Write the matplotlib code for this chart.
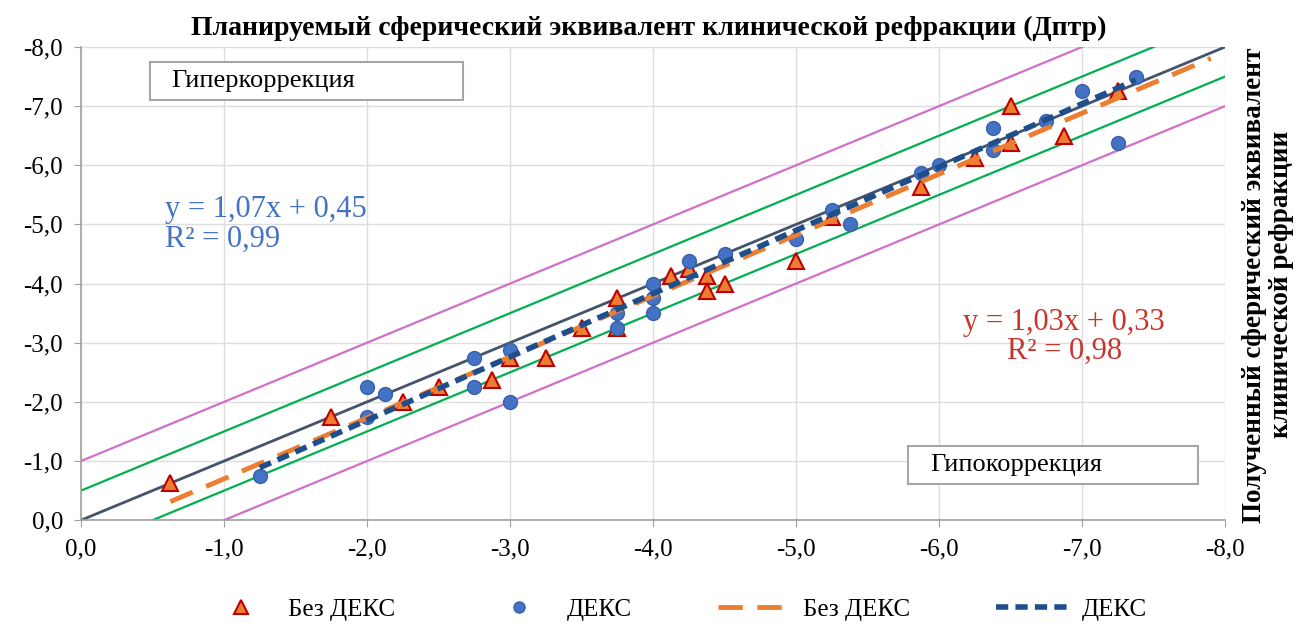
import numpy as np
import matplotlib.pyplot as plt
from matplotlib.patches import Rectangle
from matplotlib.ticker import FuncFormatter, MultipleLocator

plt.rcParams['font.family'] = ['Liberation Serif', 'DejaVu Serif']

# Planned vs. achieved spherical equivalent, D
no_deks_x = [-0.625, -1.75, -2.25, -2.5, -2.875, -3.0, -3.25, -3.5, -3.75, -3.75,
             -4.125, -4.25, -4.375, -4.375, -4.5, -5.0, -5.25, -5.875, -6.25,
             -6.5, -6.5, -6.875, -7.25]
no_deks_y = [-0.625, -1.75, -2.0, -2.25, -2.375, -2.75, -2.75, -3.25, -3.25, -3.75,
             -4.125, -4.25, -4.125, -3.875, -4.0, -4.375, -5.125, -5.625, -6.125,
             -6.375, -7.0, -6.5, -7.25]

deks_x = [-1.25, -2.0, -2.0, -2.125, -2.75, -2.75, -3.0, -3.0, -3.75, -3.75,
          -4.0, -4.0, -4.0, -4.25, -4.5, -5.0, -5.25, -5.375, -5.875, -6.0,
          -6.375, -6.375, -6.75, -7.0, -7.25, -7.375]
deks_y = [-0.75, -2.25, -1.75, -2.125, -2.75, -2.25, -2.875, -2.0, -3.5, -3.25,
          -4.0, -3.75, -3.5, -4.375, -4.5, -4.75, -5.25, -5.0, -5.875, -6.0,
          -6.25, -6.625, -6.75, -7.25, -6.375, -7.5]

# linear trends (slope, intercept) and R^2
no_deks_fit = (1.03, 0.33, 0.98)
deks_fit = (1.07, 0.45, 0.99)
no_deks_span = (-0.625, -7.9)
deks_span = (-1.25, -7.375)

# tolerance bands around the ideal line, D
bands = [0.5, 1.0]
band_colors = ['#00B050', '#D070C8']

fig = plt.figure(figsize=(12.98, 6.26), dpi=100)
ax = fig.add_axes([0.0624, 0.169, 0.8814, 0.756])

diag = np.array([0.0, -8.0])
ax.plot(diag, diag, color='#44546A', lw=2, zorder=2)
for off, col in zip(bands, band_colors):
    ax.plot(diag, diag + off, color=col, lw=1.6, zorder=2)
    ax.plot(diag, diag - off, color=col, lw=1.6, zorder=2)

ax.plot(no_deks_x, no_deks_y, '^', ms=12, mfc='#ED7D31', mec='#C00000', mew=1.5,
        zorder=4, label='Без ДЕКС')
ax.plot(deks_x, deks_y, 'o', ms=10, mfc='#4472C4', mec='#3A62A8', mew=1,
        zorder=5, label='ДЕКС')

xs = np.array(no_deks_span)
ax.plot(xs, no_deks_fit[0] * xs + no_deks_fit[1], color='#ED7D31', lw=3.5,
        dashes=(5, 3), zorder=6, label='Без ДЕКС')
xs = np.array(deks_span)
ax.plot(xs, deks_fit[0] * xs + deks_fit[1], color='#1F4E8C', lw=4,
        dashes=(2.2, 1.3), zorder=7, label='ДЕКС')

ax.set_xlim(0, -8)
ax.set_ylim(0, -8)
ax.xaxis.set_major_locator(MultipleLocator(1))
ax.yaxis.set_major_locator(MultipleLocator(1))
fmt = FuncFormatter(lambda v, p: ('%.1f' % (v + 0.0)).replace('.', ',').replace('-0,0', '0,0'))
ax.xaxis.set_major_formatter(fmt)
ax.yaxis.set_major_formatter(fmt)
ax.tick_params(labelsize=18, length=5, color='#A0A0A0', pad=8)
ax.grid(True, color='#DDDDDD', lw=1)
ax.set_axisbelow(True)
for s in ['top', 'right']:
    ax.spines[s].set_visible(False)
for s in ['left', 'bottom']:
    ax.spines[s].set_color('#A0A0A0')
    ax.spines[s].set_linewidth(1.2)

fig.text(0.5, 0.955, 'Планируемый сферический эквивалент клинической рефракции (Дптр)',
         ha='center', va='center', fontsize=20, fontweight='bold')
fig.text(0.977, 0.545, 'Полученный сферический эквивалент\nклинической рефракции',
         ha='center', va='center', rotation=90, fontsize=19.5, fontweight='bold',
         linespacing=1.1)

ax.text(-0.59, -5.0, 'y = 1,07x + 0,45\nR² = 0,99', color='#4472C4', fontsize=22,
        ha='left', va='center', linespacing=1.0)
ax.text(-7.58, -3.1, 'y = 1,03x + 0,33\nR² = 0,98', color='#C8352B', fontsize=22,
        ha='right', va='center', linespacing=1.0, multialignment='center')

for (x0, y0, w, h), label in [((0.060, 0.888, 0.274, 0.080), 'Гиперкоррекция'),
                              ((0.723, 0.076, 0.253, 0.080), 'Гипокоррекция')]:
    ax.add_patch(Rectangle((x0, y0), w, h, transform=ax.transAxes, fill=True,
                           fc='white', ec='#A6A6A6', lw=1.5, zorder=8))
    ax.text(x0 + 0.019, y0 + h / 2, label, transform=ax.transAxes, fontsize=19,
            ha='left', va='center', zorder=9)

handles, labels = ax.get_legend_handles_labels()
fig.legend(handles, labels, loc='center', bbox_to_anchor=(0.52, 0.026), ncol=4,
           frameon=False, fontsize=18, columnspacing=3.45, handlelength=3.0,
           handletextpad=0.4, markerscale=0.8)

fig.savefig('out.png', dpi=100)
